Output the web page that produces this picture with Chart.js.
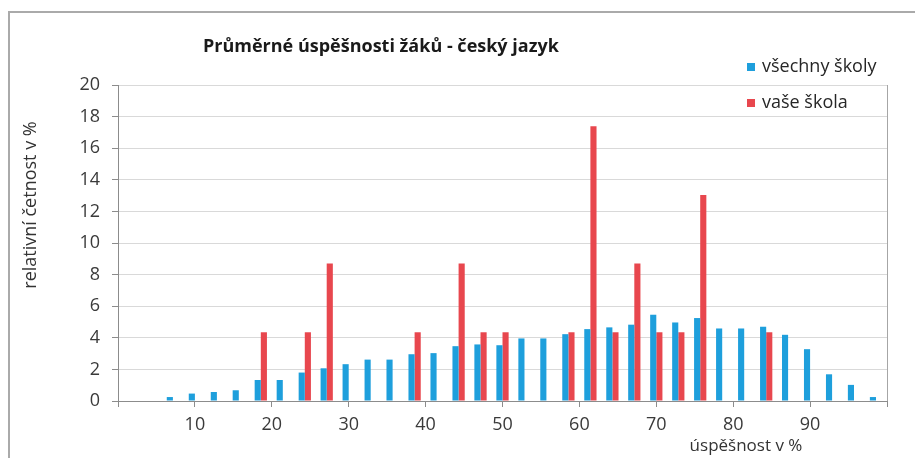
<!DOCTYPE html>
<html>
<head>
<meta charset="utf-8">
<script src="https://cdn.jsdelivr.net/npm/chart.js@4.4.1/dist/chart.umd.min.js"></script>
<style>
  html, body { margin: 0; padding: 0; background: #ffffff; }
  #wrap { position: absolute; left: 0; top: 0; width: 915px; height: 458px; }
</style>
</head>
<body>
<div id="wrap"><canvas id="c" width="915" height="458"></canvas></div>
<script>
// ---- data ----
const chartTitle = 'Průměrné úspěšnosti žáků - český jazyk';
const yAxisTitle = 'relativní četnost v %';
const xAxisTitle = 'úspěšnost v %';
const seriesNames = ['všechny školy', 'vaše škola'];

// score bins (centre of each bin, in %)
const bins = [7.14, 10.0, 12.86, 15.71, 18.57, 21.43, 24.29, 27.14, 30.0, 32.86,
              35.71, 38.57, 41.43, 44.29, 47.14, 50.0, 52.86, 55.71, 58.57, 61.43,
              64.29, 67.14, 70.0, 72.86, 75.71, 78.57, 81.43, 84.29, 87.14, 90.0,
              92.86, 95.71, 98.57];

// relative frequency, all schools
const allSchools = [0.25, 0.47, 0.57, 0.68, 1.33, 1.33, 1.80, 2.07, 2.33, 2.62,
                    2.62, 2.96, 3.03, 3.47, 3.58, 3.53, 3.96, 3.96, 4.23, 4.55,
                    4.66, 4.83, 5.46, 4.97, 5.25, 4.59, 4.59, 4.70, 4.19, 3.28,
                    1.69, 1.02, 0.25];

// relative frequency, your school (null = no pupils in bin)
const yourSchool = [null, null, null, null, 4.35, null, 4.35, 8.70, null, null,
                    null, 4.35, null, 8.70, 4.35, 4.35, null, null, 4.35, 17.39,
                    4.35, 8.70, 4.35, 4.35, 13.04, null, null, 4.35, null, null,
                    null, null, null];

const xTickLabels = [10, 20, 30, 40, 50, 60, 70, 80, 90];
const yTicks = [0, 2, 4, 6, 8, 10, 12, 14, 16, 18, 20];

// ---- styling ----
const FONT = "'Open Sans', 'DejaVu Sans', sans-serif";
const BLUE = '#1e9fdc';
const RED = '#e8474e';

const toPoints = (vals) => bins.map((b, i) => ({ x: b, y: vals[i] }));

const decorations = {
  id: 'decorations',
  beforeDraw(chart) {
    const ctx = chart.ctx;
    ctx.save();
    ctx.fillStyle = '#ffffff';
    ctx.fillRect(0, 0, chart.width, chart.height);
    // outer frame
    ctx.strokeStyle = '#aaaaaa';
    ctx.lineWidth = 2;
    ctx.beginPath();
    ctx.moveTo(9, 458);
    ctx.lineTo(9, 12);
    ctx.lineTo(915, 12);
    ctx.stroke();
    ctx.restore();
  },
  afterDraw(chart) {
    const ctx = chart.ctx;
    const a = chart.chartArea;
    ctx.save();
    // right border of plot area
    ctx.strokeStyle = '#a6a6a6';
    ctx.lineWidth = 1;
    ctx.beginPath();
    ctx.moveTo(Math.round(a.right) + 0.5, a.top);
    ctx.lineTo(Math.round(a.right) + 0.5, a.bottom);
    ctx.stroke();

    // title
    ctx.fillStyle = '#1a1a1a';
    ctx.font = 'bold 18px ' + FONT;
    ctx.textAlign = 'left';
    ctx.textBaseline = 'middle';
    ctx.fillText(chartTitle, 203, 47);

    // y axis title
    ctx.save();
    ctx.translate(31, 205);
    ctx.rotate(-Math.PI / 2);
    ctx.font = '18px ' + FONT;
    ctx.textAlign = 'center';
    ctx.fillStyle = '#333333';
    ctx.fillText(yAxisTitle, 0, 0);
    ctx.restore();

    // x axis title
    ctx.font = '17px ' + FONT;
    ctx.textAlign = 'center';
    ctx.fillStyle = '#333333';
    ctx.fillText(xAxisTitle, 746, 446);

    // legend
    const items = chart.data.datasets;
    const rows = [67, 103];
    items.forEach((ds, i) => {
      ctx.fillStyle = ds.backgroundColor;
      ctx.fillRect(747, rows[i] - 4, 8, 8);
      ctx.fillStyle = '#262626';
      ctx.font = '18px ' + FONT;
      ctx.textAlign = 'left';
      ctx.fillText(ds.label, 762, rows[i]);
    });
    ctx.restore();
  }
};

new Chart(document.getElementById('c'), {
  type: 'bar',
  data: {
    datasets: [
      { label: seriesNames[0], data: toPoints(allSchools), backgroundColor: BLUE },
      { label: seriesNames[1], data: toPoints(yourSchool), backgroundColor: RED }
    ]
  },
  options: {
    responsive: false,
    animation: false,
    devicePixelRatio: 1,
    layout: { padding: { left: 0, right: 28, top: 85, bottom: 0 } },
    categoryPercentage: 0.56,
    barPercentage: 1.0,
    plugins: {
      legend: { display: false },
      title: { display: false },
      tooltip: { enabled: false }
    },
    scales: {
      x: {
        type: 'linear',
        min: 0,
        max: 100,
        offset: false,
        afterFit(scale) { scale.height = 57; },
        grid: {
          offset: false,
          drawOnChartArea: false,
          drawTicks: true,
          tickLength: 6,
          tickColor: '#8c8c8c'
        },
        border: { display: true, color: '#8c8c8c', width: 1 },
        ticks: {
          stepSize: 10,
          padding: 7,
          maxRotation: 0,
          autoSkip: false,
          color: '#3a3a3a',
          font: { family: FONT, size: 18 },
          callback: (v) => xTickLabels.includes(v) ? String(v) : ''
        }
      },
      y: {
        type: 'linear',
        min: 0,
        max: 20,
        afterFit(scale) { scale.width = 118; },
        afterBuildTicks(scale) { scale.ticks = yTicks.map(v => ({ value: v })); },
        grid: {
          color: '#d9d9d9',
          lineWidth: 1,
          drawTicks: true,
          tickLength: 6,
          tickColor: '#8c8c8c'
        },
        border: { display: true, color: '#8c8c8c', width: 1 },
        ticks: {
          padding: 12,
          color: '#3a3a3a',
          font: { family: FONT, size: 18 }
        }
      }
    }
  },
  plugins: [decorations]
});
</script>
</body>
</html>
